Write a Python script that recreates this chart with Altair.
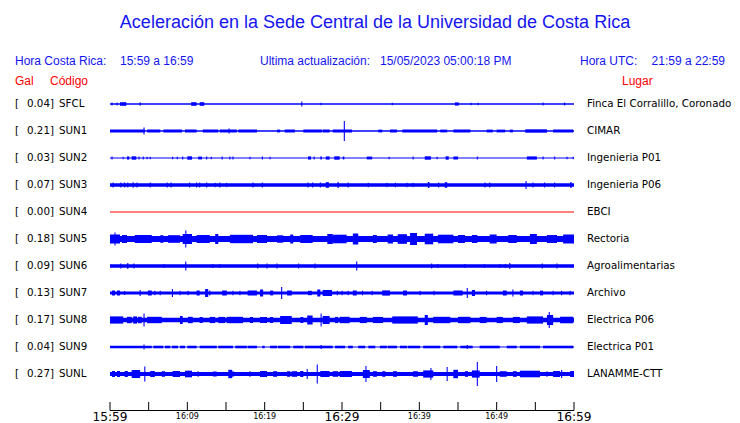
import altair as alt
import pandas as pd

# ---------------- data ----------------
codes = ["SFCL", "SUN1", "SUN2", "SUN3", "SUN4", "SUN5", "SUN6", "SUN7", "SUN8", "SUN9", "SUNL"]
places = ["Finca El Corralillo, Coronado", "CIMAR", "Ingenieria P01", "Ingenieria P06", "EBCI",
          "Rectoria", "Agroalimentarias", "Archivo", "Electrica P06", "Electrica P01", "LANAMME-CTT"]
peak_gal = [0.04, 0.21, 0.03, 0.07, 0.00, 0.18, 0.09, 0.13, 0.17, 0.04, 0.27]
trace_colors = ["#0000ff", "#0000ff", "#0000ff", "#0000ff", "#ff0000", "#0000ff",
                "#0000ff", "#0000ff", "#0000ff", "#0000ff", "#0000ff"]
# background noise half-amplitude of each trace (display units)
base_amp = [0.7, 0.7, 0.6, 1.7, 0.5, 3.0, 1.7, 1.6, 2.2, 0.6, 1.9]

# bursts: (start minute, end minute, half-amplitude) ; minutes after 15:59
bursts_sfcl = [(0.26, 0.26, 1.6), (0.9, 0.9, 1.6), (1.3, 2.1, 1.8), (3.9, 3.9, 1.8), (10.5, 11.2, 1.8),
               (11.6, 12.2, 1.8), (24.8, 24.8, 2.6), (27.3, 27.3, 1.3), (36.5, 36.5, 1.3), (44.6, 45.1, 1.6),
               (46.7, 46.7, 1.3), (47.6, 47.6, 1.3), (56.0, 56.0, 1.5), (58.8, 58.8, 1.6)]
bursts_sun1 = [(0.0, 4.5, 1.5), (4.8, 6.5, 1.5), (6.9, 9.3, 1.5), (9.7, 11.2, 1.5), (12.0, 14.0, 1.5),
               (14.2, 16.4, 1.5), (16.6, 19.0, 1.5), (21.6, 22.0, 1.4), (22.6, 23.9, 1.5), (25.0, 27.4, 1.5),
               (27.5, 28.4, 1.5), (28.8, 31.3, 1.5), (34.7, 35.2, 1.4), (36.2, 37.1, 1.5), (37.8, 42.3, 1.5),
               (42.7, 43.6, 1.4), (44.4, 46.6, 1.5), (48.7, 49.5, 1.4), (50.0, 51.1, 1.4), (51.7, 52.1, 1.4),
               (53.7, 56.5, 1.7), (57.3, 59.9, 1.5), (4.4, 4.4, 3.5), (15.4, 15.4, 2.5), (30.3, 30.3, 10.0)]
bursts_sun2 = [(0.26, 0.26, 1.6), (1.7, 1.7, 1.3), (2.2, 2.5, 1.6), (2.8, 3.4, 1.7), (3.75, 3.75, 1.4),
               (4.3, 4.3, 1.4), (4.8, 4.8, 1.3), (5.2, 5.2, 1.3), (8.1, 8.1, 1.3), (8.7, 8.7, 1.3),
               (9.4, 9.4, 1.4), (10.0, 10.6, 1.7), (11.4, 11.9, 1.4), (12.5, 12.5, 1.4), (13.1, 13.1, 1.3),
               (14.5, 14.5, 1.4), (15.5, 15.5, 1.6), (15.9, 15.9, 1.4), (18.1, 18.1, 1.3), (19.7, 19.7, 1.6),
               (20.7, 20.7, 1.3), (25.6, 26.0, 1.6), (26.4, 26.4, 1.6), (27.2, 27.4, 1.5), (27.9, 28.4, 1.6),
               (29.0, 29.7, 1.7), (30.1, 30.3, 1.5), (33.2, 33.9, 1.4), (36.1, 36.1, 1.3), (39.2, 39.2, 1.4),
               (40.7, 41.5, 1.7), (42.3, 42.3, 1.3), (43.4, 43.8, 1.7), (44.4, 45.0, 1.5), (47.5, 47.5, 1.5),
               (53.9, 55.2, 1.6), (56.0, 56.0, 1.4), (57.5, 57.5, 1.4), (59.1, 59.1, 1.3), (59.9, 59.9, 1.3)]
bursts_sun3 = [(0.4, 0.4, 2.6), (1.4, 1.4, 2.4), (1.9, 1.9, 2.4), (2.3, 2.3, 2.6), (3.0, 3.0, 2.8),
               (3.5, 3.5, 2.4), (5.2, 5.2, 2.4), (7.4, 7.4, 2.4), (7.9, 7.9, 2.6), (10.3, 10.3, 2.6),
               (11.2, 11.2, 2.4), (11.6, 11.6, 2.4), (12.5, 12.5, 2.6), (13.6, 13.6, 2.3), (14.2, 14.2, 2.4),
               (15.1, 15.1, 2.3), (18.5, 18.5, 2.4), (19.7, 19.7, 2.6), (25.6, 25.6, 2.4), (26.2, 26.2, 2.4),
               (27.2, 27.2, 2.4), (27.9, 28.3, 2.8), (29.4, 29.6, 2.8), (30.8, 30.8, 2.4), (33.4, 33.4, 2.3),
               (35.8, 35.8, 2.3), (36.9, 36.9, 2.3), (38.4, 38.4, 2.3), (39.2, 39.2, 2.3), (41.1, 41.3, 3.0),
               (42.5, 42.5, 2.6), (43.3, 43.6, 2.8), (48.5, 48.5, 2.4), (49.1, 49.1, 2.4), (53.8, 53.8, 4.0),
               (54.7, 54.7, 2.4), (56.2, 56.2, 2.4), (57.5, 57.5, 2.4), (59.5, 59.7, 2.8)]
bursts_sun4 = []
bursts_sun5 = [(0.0, 1.3, 4.5), (0.65, 0.65, 6.5), (1.55, 2.2, 4.0), (3.2, 5.4, 4.0), (6.5, 6.9, 3.8),
               (7.5, 9.05, 3.8), (9.4, 10.6, 5.0), (9.8, 9.8, 8.5), (11.2, 12.9, 4.0), (13.6, 14.0, 5.0),
               (15.5, 18.5, 4.2), (19.0, 20.3, 4.0), (21.6, 22.4, 3.7), (23.3, 23.7, 4.5), (24.6, 26.2, 4.0),
               (28.1, 28.8, 5.0), (28.8, 30.6, 4.3), (31.4, 32.1, 5.5), (34.0, 34.5, 4.0), (35.9, 36.6, 4.5),
               (37.2, 38.4, 4.8), (38.8, 39.7, 6.0), (40.7, 41.8, 5.3), (42.4, 44.4, 4.3), (45.0, 45.9, 4.0),
               (46.8, 47.5, 4.0), (49.1, 50.0, 4.5), (51.5, 52.6, 4.0), (54.3, 55.2, 5.0), (56.5, 57.8, 4.0),
               (58.6, 60.0, 4.5)]
bursts_sun6 = [(1.4, 1.4, 2.5), (2.3, 2.3, 3.0), (3.1, 3.1, 2.5), (7.0, 7.0, 2.0), (9.8, 9.8, 4.5),
               (13.3, 13.3, 2.0), (14.2, 14.2, 1.9), (19.1, 19.1, 2.5), (20.3, 20.3, 2.5), (21.6, 21.6, 2.5),
               (24.4, 24.4, 2.5), (26.5, 26.5, 2.5), (31.9, 31.9, 4.5), (41.6, 41.6, 2.5), (42.4, 42.4, 2.0),
               (45.9, 45.9, 2.0), (48.4, 48.4, 2.0), (50.4, 50.4, 2.0), (51.1, 51.1, 2.0), (51.7, 51.7, 3.0),
               (55.9, 55.9, 2.5), (57.8, 57.8, 2.5)]
bursts_sun7 = [(0.26, 0.65, 2.5), (0.9, 1.3, 2.5), (1.9, 1.9, 2.0), (3.9, 3.9, 3.0), (4.9, 5.4, 2.5),
               (5.8, 5.8, 2.2), (6.5, 6.5, 2.2), (8.0, 8.15, 4.0), (9.05, 9.05, 2.2), (10.1, 10.1, 2.2),
               (11.2, 11.6, 2.5), (12.3, 12.7, 4.0), (12.9, 12.9, 2.5), (14.5, 15.1, 2.5), (15.9, 15.9, 2.2),
               (16.8, 16.8, 2.2), (17.8, 19.0, 2.5), (19.4, 19.8, 3.5), (20.7, 21.1, 2.4), (22.2, 22.2, 6.0),
               (22.9, 23.5, 2.5), (25.6, 26.1, 2.2), (26.8, 27.2, 3.5), (27.5, 28.7, 3.0), (29.4, 29.4, 2.3),
               (30.0, 30.0, 2.3), (30.8, 30.8, 2.3), (31.4, 31.9, 2.5), (32.6, 32.7, 2.3), (33.9, 33.9, 2.3),
               (35.2, 36.2, 2.6), (37.9, 38.4, 2.5), (40.1, 40.1, 2.3), (41.9, 41.9, 2.3), (44.4, 45.6, 2.5),
               (46.2, 46.2, 5.0), (46.8, 47.2, 3.0), (48.7, 48.7, 2.3), (50.8, 51.3, 2.5), (52.1, 52.1, 3.5),
               (53.0, 53.4, 2.5), (54.7, 54.7, 2.3), (55.6, 56.0, 2.4), (57.3, 57.3, 2.3), (58.4, 58.4, 2.3),
               (59.5, 59.5, 2.3)]
bursts_sun8 = [(0.0, 1.7, 3.6), (2.2, 2.8, 3.2), (3.0, 3.5, 3.6), (3.6, 4.1, 3.2), (4.4, 4.4, 6.5),
               (4.8, 6.7, 3.2), (9.05, 9.4, 4.0), (10.1, 10.7, 3.2), (11.6, 12.0, 3.0), (12.9, 13.6, 3.1),
               (14.0, 14.9, 3.1), (15.1, 17.2, 3.2), (18.1, 18.5, 3.0), (19.4, 20.3, 3.1), (20.7, 21.1, 3.0),
               (22.0, 23.5, 4.0), (24.6, 25.0, 3.0), (25.5, 26.2, 4.5), (27.3, 27.3, 6.5), (27.5, 28.4, 4.0),
               (29.1, 29.5, 3.1), (29.7, 31.0, 3.2), (32.3, 33.2, 3.1), (34.0, 35.3, 3.1), (36.5, 39.8, 3.6),
               (40.7, 41.1, 5.0), (41.8, 44.0, 3.2), (45.0, 46.6, 3.2), (47.8, 48.7, 3.1), (50.0, 50.8, 3.1),
               (52.1, 53.0, 3.1), (53.9, 56.0, 3.6), (56.5, 57.3, 5.0), (56.8, 56.8, 8.0), (58.2, 59.9, 3.3)]
bursts_sun9 = [(0.0, 5.4, 1.3), (5.6, 6.9, 1.3), (7.1, 7.8, 1.3), (8.0, 8.8, 1.3), (9.05, 9.7, 1.3),
               (10.0, 11.2, 1.3), (11.6, 13.8, 1.3), (14.0, 15.9, 1.3), (16.2, 17.7, 1.3), (17.8, 19.0, 1.3),
               (19.7, 20.0, 1.3), (20.7, 21.6, 1.3), (21.7, 23.3, 1.3), (23.7, 25.0, 1.3), (25.2, 28.8, 1.3),
               (29.1, 30.4, 1.3), (30.8, 31.4, 1.3), (32.1, 33.0, 1.3), (33.4, 34.3, 1.3), (34.9, 35.8, 1.3),
               (35.9, 37.1, 1.3), (37.5, 38.4, 1.3), (38.5, 40.1, 1.3), (40.5, 42.7, 1.3), (43.1, 44.9, 1.3),
               (45.3, 46.9, 1.3), (47.8, 50.4, 1.3), (51.3, 52.6, 1.3), (53.0, 55.6, 1.3), (56.0, 59.9, 1.3),
               (4.4, 4.4, 2.5), (27.3, 27.3, 2.0), (46.2, 46.2, 2.0)]
bursts_sunl = [(0.26, 0.65, 3.0), (0.9, 1.3, 3.0), (1.9, 2.3, 3.0), (2.8, 3.9, 4.0), (4.5, 4.5, 7.5),
               (5.2, 5.8, 3.0), (6.7, 7.1, 2.8), (8.1, 9.05, 3.0), (9.7, 10.6, 3.3), (11.4, 11.4, 2.8),
               (13.3, 13.8, 2.5), (15.3, 15.8, 4.2), (15.9, 15.9, 3.0), (18.1, 18.1, 2.8), (19.4, 20.3, 3.0),
               (21.1, 21.6, 2.8), (22.9, 23.3, 2.8), (23.5, 24.2, 2.8), (24.6, 25.0, 3.0), (25.5, 25.5, 5.0),
               (26.8, 26.8, 9.5), (27.2, 28.4, 3.0), (28.8, 29.5, 2.8), (29.7, 31.3, 3.0), (32.7, 33.6, 4.0),
               (33.1, 33.1, 8.0), (34.0, 34.5, 2.8), (35.2, 35.6, 2.8), (36.6, 37.1, 2.8), (39.2, 39.8, 2.8),
               (40.5, 41.8, 3.6), (41.5, 41.5, 6.0), (43.6, 43.6, 7.0), (44.4, 45.0, 4.2), (45.9, 46.3, 2.8),
               (46.8, 47.8, 3.6), (47.5, 47.5, 12.0), (50.0, 50.0, 8.0), (50.4, 51.3, 2.8), (52.1, 52.6, 2.8),
               (53.0, 55.6, 3.3), (56.5, 56.5, 2.8), (57.3, 58.2, 3.0), (58.4, 58.4, 4.0), (59.5, 60.0, 3.0)]

tick_minutes = [0, 5, 10, 15, 20, 25, 30, 35, 40, 45, 50, 55, 60]
major_minutes = [0, 30, 60]
major_labels = ["15:59", "16:29", "16:59"]
minor_minutes = [10, 20, 40, 50]
minor_labels = ["16:09", "16:19", "16:39", "16:49"]

title_text = "Aceleración en la Sede Central de la Universidad de Costa Rica"

# ---------------- build tables ----------------
all_bursts = [bursts_sfcl, bursts_sun1, bursts_sun2, bursts_sun3, bursts_sun4, bursts_sun5,
              bursts_sun6, bursts_sun7, bursts_sun8, bursts_sun9, bursts_sunl]
ROW_UNITS = 27.0      # display units per row spacing
MIN_W = 0.14          # minimum drawn width of a burst (minutes)

rect_rows = []
for i, code in enumerate(codes):
    a = base_amp[i]
    rect_rows.append(dict(code=code, t0=0.0, t1=60.0, lo=i - a / ROW_UNITS, hi=i + a / ROW_UNITS,
                          col=trace_colors[i]))
    for (s, e, amp) in all_bursts[i]:
        if e - s < MIN_W:
            c = (s + e) / 2
            s, e = c - MIN_W / 2, c + MIN_W / 2
        rect_rows.append(dict(code=code, t0=s, t1=e, lo=i - amp / ROW_UNITS, hi=i + amp / ROW_UNITS,
                              col=trace_colors[i]))
rects = pd.DataFrame(rect_rows)

labels = pd.DataFrame(dict(row=list(range(len(codes))), code=codes, place=places,
                           val=[f"{v:.2f}]" for v in peak_gal]))

W, H = 724, 414
xscale = alt.Scale(domain=[0, 60], range=[102, 566])
yscale = alt.Scale(domain=[-0.5, 10.5], range=[81.5, 378.5])

traces = alt.Chart(rects).mark_rect(strokeWidth=0).encode(
    x=alt.X("t0:Q", scale=xscale, axis=None),
    x2="t1:Q",
    y=alt.Y("lo:Q", scale=yscale, axis=None),
    y2="hi:Q",
    color=alt.Color("col:N", scale=None, legend=None),
)

lab_font = "DejaVu Sans"
lab_size = 10.3
bracket = alt.Chart(labels).mark_text(align="left", baseline="middle", font=lab_font,
                                      fontSize=lab_size, color="black").encode(
    x=alt.value(7), y=alt.Y("row:Q", scale=yscale, axis=None), text=alt.value("["))
vals = alt.Chart(labels).mark_text(align="right", baseline="middle", font=lab_font,
                                   fontSize=lab_size, color="black").encode(
    x=alt.value(46), y=alt.Y("row:Q", scale=yscale, axis=None), text="val:N")
codes_t = alt.Chart(labels).mark_text(align="left", baseline="middle", font=lab_font,
                                      fontSize=lab_size, color="black").encode(
    x=alt.value(51), y=alt.Y("row:Q", scale=yscale, axis=None), text="code:N")
places_t = alt.Chart(labels).mark_text(align="left", baseline="middle", font=lab_font,
                                       fontSize=lab_size, color="black").encode(
    x=alt.value(579), y=alt.Y("row:Q", scale=yscale, axis=None), text="place:N")

# time axis drawn under the traces
axis_df = pd.DataFrame(dict(t0=[0], t1=[60]))
axis_line = alt.Chart(axis_df).mark_rule(color="black", strokeWidth=1).encode(
    x=alt.X("t0:Q", scale=xscale, axis=None), x2="t1:Q", y=alt.value(401.5))
ticks_df = pd.DataFrame(dict(t=tick_minutes))
ticks = alt.Chart(ticks_df).mark_rule(color="black", strokeWidth=1).encode(
    x=alt.X("t:Q", scale=xscale, axis=None), y=alt.value(393), y2=alt.value(401.5))
major_df = pd.DataFrame(dict(t=major_minutes, lab=major_labels))
major_t = alt.Chart(major_df).mark_text(align="center", baseline="alphabetic", font=lab_font,
                                        fontSize=12.2, color="black").encode(
    x=alt.X("t:Q", scale=xscale, axis=None), y=alt.value(411.5), text="lab:N")
minor_df = pd.DataFrame(dict(t=minor_minutes, lab=minor_labels))
minor_t = alt.Chart(minor_df).mark_text(align="center", baseline="alphabetic", font=lab_font,
                                        fontSize=8, color="black").encode(
    x=alt.X("t:Q", scale=xscale, axis=None), y=alt.value(410), text="lab:N")


def txt(s, x, y, size, color, align="left", font="Liberation Sans"):
    return alt.Chart(pd.DataFrame(dict(s=[s]))).mark_text(
        align=align, baseline="middle", font=font, fontSize=size, color=color).encode(
        x=alt.value(x), y=alt.value(y), text="s:N")


BLUE = "#1414f0"
RED = "#ff0000"
headers = [
    txt(title_text, 367, 14, 18, BLUE, align="center"),
    txt("Hora Costa Rica:", 7, 52, 12, BLUE),
    txt("15:59 a 16:59", 112, 52, 12, BLUE),
    txt("Ultima actualización:", 252, 52, 12, BLUE),
    txt("15/05/2023 05:00:18 PM", 372, 52, 12, BLUE),
    txt("Hora UTC:", 572, 52, 12, BLUE),
    txt("21:59 a 22:59", 717, 52, 12, BLUE, align="right"),
    txt("Gal", 7, 72, 12, RED),
    txt("Código", 42, 72, 12, RED),
    txt("Lugar", 614, 72, 12, RED),
]

chart = alt.layer(traces, bracket, vals, codes_t, places_t, axis_line, ticks, major_t, minor_t,
                  *headers).properties(
    width=W, height=H, autosize=alt.AutoSizeParams(type="none"),
    padding={"top": 1, "left": 0, "right": 0, "bottom": 0},
    background="white",
).configure_view(strokeWidth=0)

chart.save("out.html", embed_options={"renderer": "svg", "actions": False})
